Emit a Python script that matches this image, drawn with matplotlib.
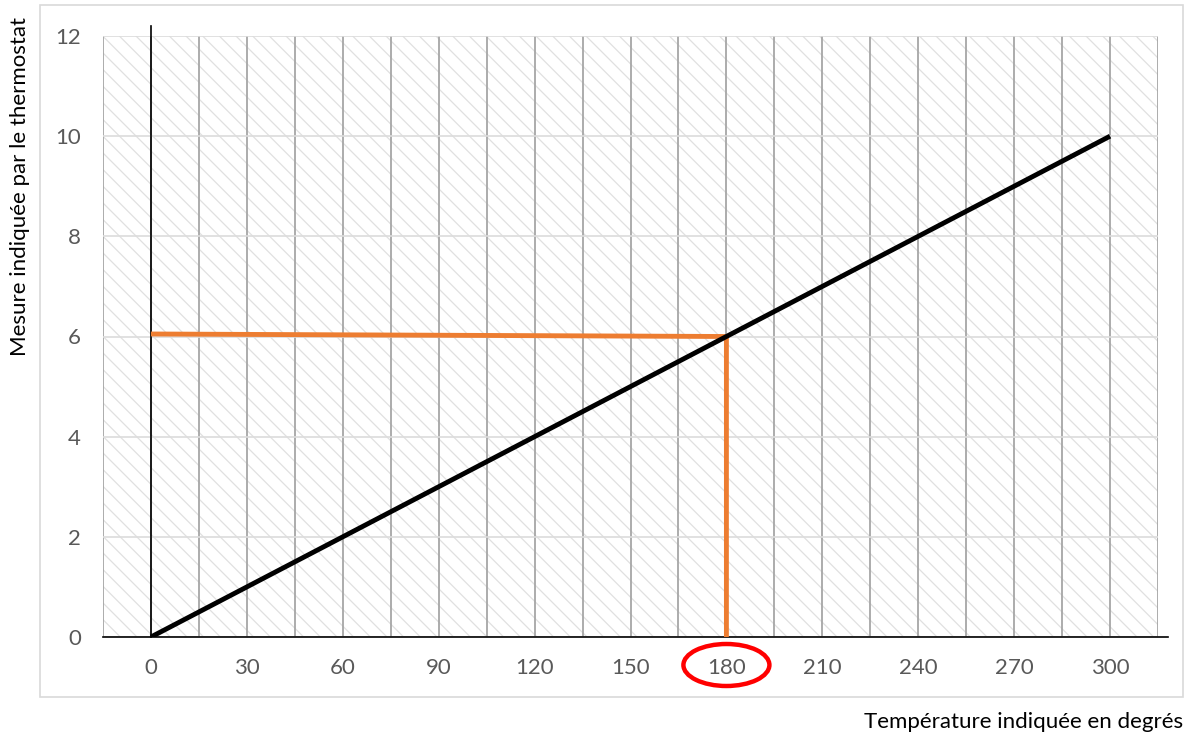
import matplotlib
matplotlib.use("Agg")
import matplotlib.pyplot as plt
from matplotlib.patches import Rectangle, Ellipse

plt.rcParams['font.family'] = ['Lato', 'DejaVu Sans']
plt.rcParams['hatch.color'] = '#e0e0e0'
plt.rcParams['hatch.linewidth'] = 0.9

# data
temp = [0, 300]
mesure = [0, 10]
read_x = [0, 180, 180]
read_y = [6.05, 6, 0]
x_ticks = [0, 30, 60, 90, 120, 150, 180, 210, 240, 270, 300]
y_ticks = [0, 2, 4, 6, 8, 10, 12]
highlight_x = 180

W, H = 1193, 736
fig = plt.figure(figsize=(W / 100, H / 100), dpi=100)
ax = fig.add_axes([103 / W, 1 - 637 / H, (1158 - 103) / W, (637 - 36) / H])

# chart border
fig.patches.append(Rectangle((40 / W, 1 - 697 / H), (1183 - 40) / W, (697 - 5) / H,
                             transform=fig.transFigure, fill=False,
                             edgecolor='#d9d9d9', linewidth=1.2))

ax.set_xlim(-15, 315)
ax.set_ylim(0, 12)

# hatched background
ax.add_patch(Rectangle((0, 0), 1, 1, transform=ax.transAxes, facecolor='white',
                       edgecolor='#e0e0e0', hatch='\\\\', linewidth=0, zorder=0))

for s in ax.spines.values():
    s.set_visible(False)

# grid
for gx in range(-15, 316, 15):
    ax.axvline(gx, color='#a6a6a6', lw=1.3, zorder=1)
for gy in y_ticks:
    ax.axhline(gy, color='#dcdcdc', lw=1.2, zorder=1)

# axes lines
ax.plot([-15, 318], [0, 0], color='black', lw=1.2, zorder=3, clip_on=False)
ax.plot([0, 0], [0, 12.2], color='black', lw=1.2, zorder=3, clip_on=False)

ax.set_xticks(x_ticks)
ax.set_yticks(y_ticks)
ax.tick_params(axis='both', length=0, labelsize=16, labelcolor='#595959')
ax.tick_params(axis='x', pad=15)
ax.tick_params(axis='y', pad=16)

ax.plot(temp, mesure, color='black', lw=3.5, zorder=5, solid_capstyle='butt')
ax.plot(read_x, read_y, color='#ED7D31', lw=3.5, zorder=4, solid_capstyle='butt')

# red ellipse around highlighted tick label
fig.canvas.draw()
cx_disp = ax.transData.transform((highlight_x, 0))[0]
ell = Ellipse((cx_disp / W, 1 - 665 / H), 86 / W, 42 / H, transform=fig.transFigure,
              fill=False, edgecolor='#FF0000', linewidth=3.2)
fig.patches.append(ell)

fig.text(20 / W, 1 - 187 / H, 'Mesure indiquée par le thermostat', rotation=90,
         ha='center', va='center', fontsize=16, color='black')
fig.text(1183 / W, 1 - 722 / H, 'Température indiquée en degrés',
         ha='right', va='center', fontsize=16, color='black')

fig.savefig('out.png', dpi=100)
